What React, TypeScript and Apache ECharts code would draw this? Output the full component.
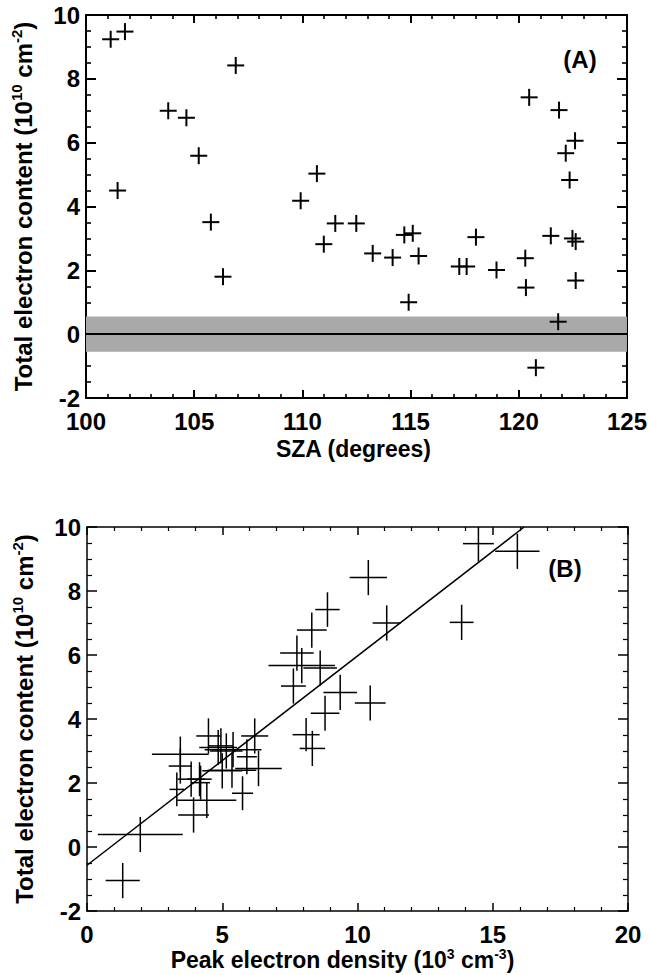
import React, { useEffect, useRef } from "react";
import * as echarts from "echarts";

// Solar zenith angle (degrees) for each observation
const szaDeg = [
  101.14, 101.8, 106.92, 103.8, 104.64, 105.21, 110.67, 101.46, 109.92, 120.48,
  121.86, 122.6, 122.17, 122.35, 105.77, 111.52, 112.49, 110.99, 113.25, 106.33,
  114.71, 115.1, 118.02, 121.48, 122.48, 122.63, 114.17, 115.37, 117.25, 117.59,
  118.97, 120.3, 120.33, 122.63, 114.91, 121.82, 120.79,
];
// Total electron content (1e10 cm^-2)
const tec = [
  9.24, 9.48, 8.42, 7.0, 6.78, 5.59, 5.03, 4.5, 4.18, 7.42,
  7.02, 6.06, 5.67, 4.83, 3.51, 3.47, 3.47, 2.82, 2.53, 1.8,
  3.11, 3.16, 3.04, 3.08, 3.0, 2.9, 2.4, 2.45, 2.12, 2.12,
  2.01, 2.38, 1.46, 1.68, 1.0, 0.39, -1.05,
];
// TEC uncertainty
const tecErr = [
  0.55, 0.56, 0.55, 0.55, 0.55, 0.55, 0.55, 0.55, 0.55, 0.54,
  0.55, 0.55, 0.55, 0.55, 0.52, 0.55, 0.55, 0.55, 0.55, 0.53,
  0.55, 0.55, 0.55, 0.55, 0.55, 0.55, 0.55, 0.55, 0.53, 0.55,
  0.53, 0.55, 0.55, 0.53, 0.55, 0.55, 0.55,
];
// Peak electron density (1e3 cm^-3)
const peakDensity = [
  15.91, 14.47, 10.4, 11.08, 8.31, 8.62, 7.63, 10.47, 8.8, 8.89,
  13.85, 7.76, 7.94, 9.36, 8.1, 6.2, 4.49, 5.91, 3.45, 3.32,
  4.85, 4.95, 5.4, 8.33, 5.15, 3.45, 5.36, 6.34, 4.16, 3.85,
  4.2, 5.0, 4.43, 5.75, 3.94, 1.97, 1.32,
];
// Peak density uncertainty
const densityErr = [
  0.82, 0.57, 0.69, 0.52, 0.55, 0.62, 0.46, 0.57, 0.53, 0.45,
  0.44, 0.62, 1.23, 0.62, 0.5, 0.5, 0.45, 0.37, 0.43, 0.27,
  0.7, 0.45, 1.05, 0.47, 0.6, 1.05, 0.9, 0.86, 0.45, 0.5,
  0.35, 0.74, 1.09, 0.39, 0.57, 1.57, 0.63,
];
// Linear fit endpoints (panel B)
const fitLineX = [0, 16.16];
const fitLineY = [-0.57, 10];
// Noise band (panel A)
const noiseBand = [-0.55, 0.55];

const xTicksA = { min: 100, max: 125, interval: 5 };
const xTicksB = { min: 0, max: 20, interval: 5 };
const yTicks = { min: -2, max: 10, interval: 2 };

const FONT = '"Liberation Sans", Arial, Helvetica, sans-serif';

export default function App() {
  const ref = useRef<HTMLDivElement>(null);
  useEffect(() => {
    if (!ref.current) return;
    const chart = echarts.init(ref.current, null, { renderer: "svg" });

    const labelStyle = { fontFamily: FONT, fontWeight: "bold", fontSize: 24, color: "#000" };

    const mkX = (grid: number, t: any, pos: "bottom" | "top", lw: number, name?: string, nameGap?: number, rich?: any, pad?: number[]) => ({
      type: "value",
      gridIndex: grid,
      position: pos,
      min: t.min,
      max: t.max,
      interval: t.interval,
      axisLine: { show: true, onZero: false, lineStyle: { color: "#000", width: lw } },
      axisTick: { show: true, inside: true, length: 8, lineStyle: { color: "#000", width: lw } },
      minorTick: { show: true, splitNumber: 5, length: 4, lineStyle: { color: "#000", width: lw * 0.8 } },
      splitLine: { show: false },
      axisLabel: pos === "bottom" ? { show: true, margin: 11, ...labelStyle } : { show: false },
      name: name || "",
      nameLocation: "middle",
      nameGap: nameGap || 0,
      nameTextStyle: { fontFamily: FONT, fontWeight: "bold", fontSize: 23, color: "#000", lineHeight: 26, rich, padding: pad || 0 },
    });
    const mkY = (grid: number, pos: "left" | "right", lw: number, name?: string, rich?: any) => ({
      type: "value",
      gridIndex: grid,
      position: pos,
      min: yTicks.min,
      max: yTicks.max,
      interval: yTicks.interval,
      axisLine: { show: true, onZero: false, lineStyle: { color: "#000", width: lw } },
      axisTick: { show: true, inside: true, length: 10, lineStyle: { color: "#000", width: lw } },
      minorTick: { show: true, splitNumber: 4, length: 5, lineStyle: { color: "#000", width: lw * 0.8 } },
      splitLine: { show: false },
      axisLabel: pos === "left" ? { show: true, margin: 6, ...labelStyle } : { show: false },
      name: name || "",
      nameLocation: "middle",
      nameGap: 48,
      nameTextStyle: { fontFamily: FONT, fontWeight: "bold", fontSize: 24, color: "#000", lineHeight: 29, rich },
    });

    const richY = {
      b: { fontFamily: FONT, fontWeight: "bold", fontSize: 24, color: "#000", lineHeight: 29, verticalAlign: "middle" },
      s: { fontFamily: FONT, fontWeight: "bold", fontSize: 15, color: "#000", lineHeight: 15, verticalAlign: "top" },
    };
    const richX = {
      b: { fontFamily: FONT, fontWeight: "bold", fontSize: 23, color: "#000", lineHeight: 26, verticalAlign: "middle" },
      s: { fontFamily: FONT, fontWeight: "bold", fontSize: 14, color: "#000", lineHeight: 14, verticalAlign: "top" },
    };
    const yName = "{b|Total electron content (10}{s|10}{b| cm}{s|-2}{b|)}";
    const xNameB = "{b|Peak electron density (10}{s|3}{b| cm}{s|-3}{b|)}";

    const dataA = szaDeg.map((x, i) => [x, tec[i]]);
    const dataB = peakDensity.map((x, i) => [x, tec[i], densityErr[i], tecErr[i]]);
    const fitData = fitLineX.map((x, i) => [x, fitLineY[i]]);

    const option: any = {
      animation: false,
      backgroundColor: "#fff",
      grid: [
        { left: 86, top: 15, width: 542, height: 383 },
        { left: 87, top: 527, width: 541, height: 384 },
      ],
      xAxis: [
        mkX(0, xTicksA, "bottom", 2, "SZA (degrees)", 38, undefined, [0, 6, 0, 0]),
        mkX(0, xTicksA, "top", 2),
        mkX(1, xTicksB, "bottom", 1.5, xNameB, 36, richX, [0, 30, 0, 0]),
        mkX(1, xTicksB, "top", 1.5),
      ],
      yAxis: [
        mkY(0, "left", 2, yName, richY),
        mkY(0, "right", 2),
        mkY(1, "left", 1.5, yName, richY),
        mkY(1, "right", 1.5),
      ],
      series: [
        {
          type: "line",
          xAxisIndex: 0,
          yAxisIndex: 0,
          data: [],
          z: 1,
          silent: true,
          markArea: {
            silent: true,
            itemStyle: { color: "#a9a9a9", opacity: 1 },
            data: [[{ yAxis: noiseBand[0] }, { yAxis: noiseBand[1] }]],
          },
          markLine: {
            silent: true,
            symbol: ["none", "none"],
            label: { show: false },
            lineStyle: { color: "#000", width: 2, type: "solid" },
            data: [{ yAxis: 0 }],
          },
        },
        {
          type: "custom",
          xAxisIndex: 0,
          yAxisIndex: 0,
          z: 5,
          data: dataA,
          encode: { x: 0, y: 1 },
          renderItem: (params: any, api: any) => {
            const c = api.coord([api.value(0), api.value(1)]);
            const h = 8.5;
            return {
              type: "group",
              children: [
                { type: "line", shape: { x1: c[0] - h, y1: c[1], x2: c[0] + h, y2: c[1] }, style: { stroke: "#000", lineWidth: 2 } },
                { type: "line", shape: { x1: c[0], y1: c[1] - h, x2: c[0], y2: c[1] + h }, style: { stroke: "#000", lineWidth: 2 } },
              ],
            };
          },
        },
        {
          type: "custom",
          xAxisIndex: 2,
          yAxisIndex: 2,
          z: 5,
          data: dataB,
          encode: { x: 0, y: 1 },
          renderItem: (params: any, api: any) => {
            const x = api.value(0), y = api.value(1), xe = api.value(2), ye = api.value(3);
            const l = api.coord([x - xe, y]);
            const r = api.coord([x + xe, y]);
            const t = api.coord([x, y + ye]);
            const b = api.coord([x, y - ye]);
            const cs = params.coordSys;
            return {
              type: "group",
              clipPath: { type: "rect", shape: { x: cs.x, y: cs.y, width: cs.width, height: cs.height } },
              children: [
                { type: "line", shape: { x1: l[0], y1: l[1], x2: r[0], y2: r[1] }, style: { stroke: "#000", lineWidth: 1.5 } },
                { type: "line", shape: { x1: t[0], y1: t[1], x2: b[0], y2: b[1] }, style: { stroke: "#000", lineWidth: 1.5 } },
              ],
            };
          },
        },
        {
          type: "line",
          xAxisIndex: 2,
          yAxisIndex: 2,
          data: fitData,
          symbol: "none",
          clip: true,
          z: 4,
          lineStyle: { color: "#000", width: 1.5 },
        },
      ],
      graphic: [
        {
          type: "text",
          x: 580,
          y: 59,
          style: { text: "(A)", fontFamily: FONT, fontWeight: "bold", fontSize: 24, fill: "#000", align: "center", verticalAlign: "middle" },
        },
        {
          type: "text",
          x: 565,
          y: 568,
          style: { text: "(B)", fontFamily: FONT, fontWeight: "bold", fontSize: 24, fill: "#000", align: "center", verticalAlign: "middle" },
        },
      ],
    };
    chart.setOption(option);
    return () => chart.dispose();
  }, []);

  return (
    <div
      ref={ref}
      style={{ position: "absolute", left: 0, top: 0, width: 650, height: 975, background: "#fff" }}
    />
  );
}
